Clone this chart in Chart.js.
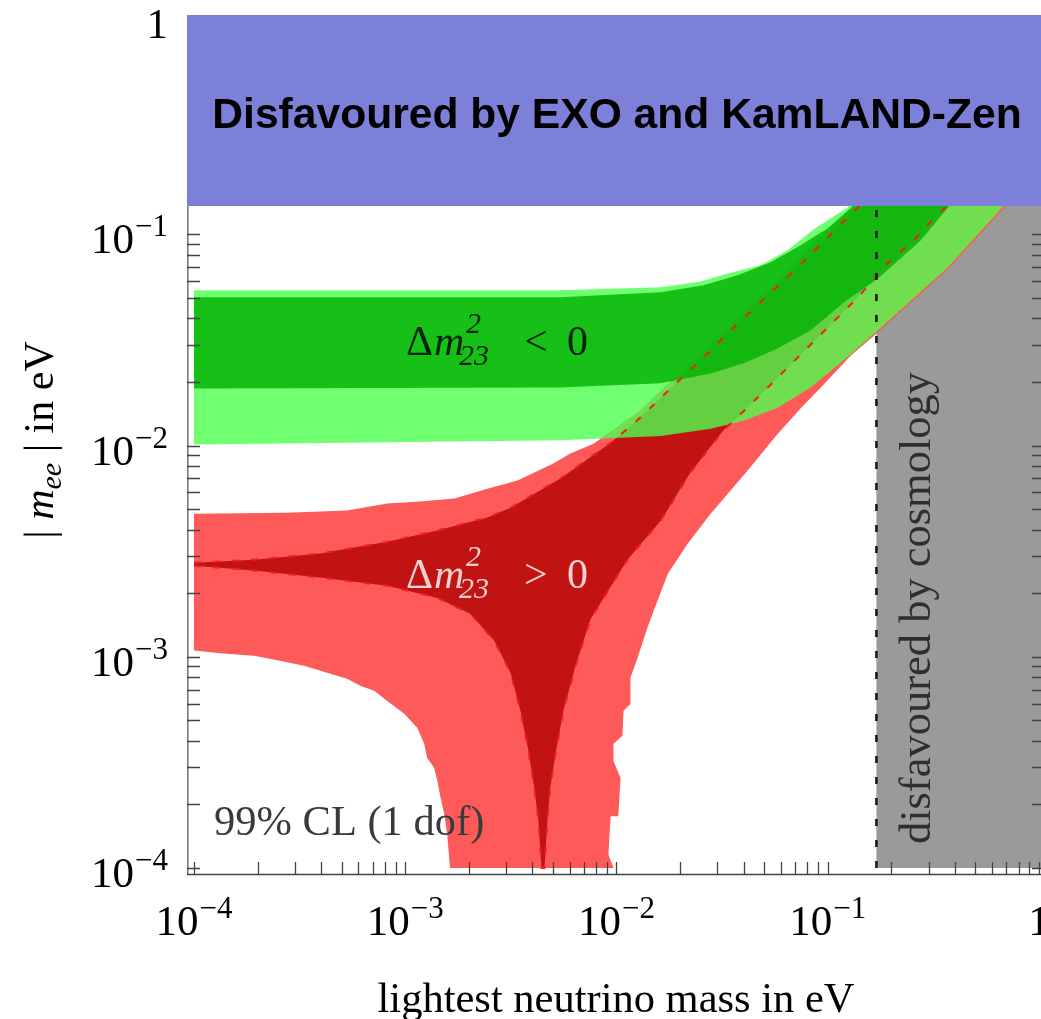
<!DOCTYPE html>
<html>
<head>
<meta charset="utf-8">
<script src="https://cdn.jsdelivr.net/npm/chart.js@4.4.1/dist/chart.umd.min.js"></script>
<style>
  html, body { margin: 0; padding: 0; background: #fff; overflow: hidden; }
  canvas { display: block; }
</style>
</head>
<body>
<canvas id="chart" width="1041" height="1019"></canvas>
<script>
// Effective Majorana mass |m_ee| versus the lightest neutrino mass (both in eV).
// Each boundary is a list of [lightest mass, |m_ee|] pairs.

const SERIF = '"Liberation Serif", "Times New Roman", serif';
const SANS = '"Liberation Sans", Arial, sans-serif';

// axis ranges (log scales) and decade tick labels
const xRange = [Math.pow(10, -4.033), Math.pow(10, 0.0095)];
const yRange = [Math.pow(10, -4.033), Math.pow(10, 0.038)];
const decades = [1e-4, 1e-3, 1e-2, 1e-1, 1];
const decadeLabels = [['10', '\u22124'], ['10', '\u22123'], ['10', '\u22122'], ['10', '\u22121'], ['1', '']];

// experimental bounds
const exoLimit = 0.136;    // |m_ee| upper bound (EXO + KamLAND-Zen)
const cosmoLimit = 0.17;   // lightest mass bound from cosmology

// normal ordering (dm23^2 > 0), 99% CL band
const nhOuterUpper = [
  [1.0e-4, 0.00476], [2.76e-4, 0.00481], [5.31e-4, 0.00492], [8.22e-4, 0.00531],
  [1.18e-3, 0.00543], [1.71e-3, 0.00561], [2.45e-3, 0.00625], [3.40e-3, 0.00683],
  [5.02e-3, 0.00822], [6.05e-3, 0.00916], [7.78e-3, 0.0102], [1.30e-2, 0.0147],
  [1.86e-2, 0.0208], [2.58e-2, 0.0282], [3.59e-2, 0.0391], [5.20e-2, 0.0543],
  [7.21e-2, 0.0753], [0.100, 0.1045], [0.139, 0.145], [1.1, 1.2]
];
const nhOuterLower = [
  [1.0e-4, 0.00107], [1.33e-4, 0.00104], [1.92e-4, 0.00101], [2.29e-4, 0.000979],
  [3.32e-4, 0.000906], [4.27e-4, 0.000840], [5.31e-4, 0.000787], [6.12e-4, 0.000729],
  [7.13e-4, 0.000690], [8.22e-4, 0.000618], [9.89e-4, 0.000537], [1.14e-3, 0.000461],
  [1.23e-3, 0.000387], [1.27e-3, 0.000332], [1.37e-3, 0.000298], [1.42e-3, 0.000258],
  [1.47e-3, 0.000215], [1.53e-3, 0.000180], [1.58e-3, 0.000145], [1.63e-3, 1.0e-4],
  [9.68e-3, 1.0e-4], [9.16e-3, 0.000116], [9.38e-3, 0.000176], [1.02e-2, 0.000176],
  [1.045e-2, 0.000267], [9.68e-3, 0.000321], [9.68e-3, 0.000387], [1.067e-2, 0.000423],
  [1.08e-2, 0.000555], [1.164e-2, 0.000598], [1.164e-2, 0.000795], [1.259e-2, 0.000989],
  [1.40e-2, 0.00137], [1.50e-2, 0.00165], [1.75e-2, 0.00247], [2.17e-2, 0.00343],
  [2.79e-2, 0.00476], [4.18e-2, 0.00762], [0.0568, 0.0111], [0.0745, 0.0150],
  [0.0977, 0.0199], [0.1285, 0.0267], [0.171, 0.0340], [0.371, 0.0683],
  [0.682, 0.1328], [1.1, 0.226]
];

// normal ordering, best-fit oscillation parameters
const nhBestUpper = [
  [1.0e-4, 0.00279], [1.92e-4, 0.00288], [3.95e-4, 0.00308], [8.22e-4, 0.00350],
  [1.42e-3, 0.00396], [2.45e-3, 0.00456], [3.15e-3, 0.00508], [5.43e-3, 0.00698],
  [9.38e-3, 0.0103], [1.127e-2, 0.0120], [1.30e-2, 0.0136], [1.86e-2, 0.0192],
  [2.58e-2, 0.0261], [3.59e-2, 0.0362], [5.20e-2, 0.0514], [7.21e-2, 0.0698],
  [0.100, 0.0968], [0.139, 0.134], [1.1, 1.07]
];
const nhBestLower = [
  [1.0e-4, 0.00270], [1.92e-4, 0.00256], [3.95e-4, 0.00237], [8.22e-4, 0.00217],
  [1.42e-3, 0.00190], [2.03e-3, 0.00160], [2.64e-3, 0.00119], [3.15e-3, 0.000840],
  [3.51e-3, 0.000555], [3.83e-3, 0.000359], [4.08e-3, 0.000239], [4.27e-3, 0.000167],
  [4.42e-3, 1.0e-4], [4.56e-3, 1.0e-4], [4.71e-3, 0.000167], [4.86e-3, 0.000239],
  [5.14e-3, 0.000347], [5.61e-3, 0.000555], [6.40e-3, 0.000906], [7.54e-3, 0.00151],
  [1.127e-2, 0.00288], [1.62e-2, 0.00441], [2.24e-2, 0.00745], [3.21e-2, 0.0118],
  [3.59e-2, 0.0131], [5.20e-2, 0.0188], [7.21e-2, 0.0261], [0.100, 0.0362],
  [0.139, 0.0503], [0.192, 0.0729], [0.256, 0.0937], [0.318, 0.119],
  [0.395, 0.145], [1.1, 0.42]
];

// inverted ordering (dm23^2 < 0), 99% CL band
const ihOuterUpper = [
  [1.0e-4, 0.0543], [5.43e-3, 0.0543], [1.62e-2, 0.0561], [2.50e-2, 0.0598],
  [3.36e-2, 0.0653], [4.81e-2, 0.0713], [6.46e-2, 0.0840], [8.59e-2, 0.1057],
  [0.124, 0.134], [1.1, 1.3]
];
const ihOuterLower = [
  [1.0e-4, 0.0101], [5.43e-3, 0.0106], [1.62e-2, 0.0111], [2.79e-2, 0.0120],
  [4.00e-2, 0.0131], [5.79e-2, 0.0151], [8.30e-2, 0.0188], [0.119, 0.0253],
  [0.173, 0.0351], [0.371, 0.0698], [0.682, 0.1365], [1.1, 0.23]
];

// inverted ordering, best-fit oscillation parameters
const ihBestUpper = [
  [1.0e-4, 0.0503], [5.43e-3, 0.0503], [1.62e-2, 0.0531], [2.58e-2, 0.0573],
  [3.74e-2, 0.0639], [5.37e-2, 0.0737], [7.45e-2, 0.0887], [0.100, 0.1067],
  [0.1285, 0.1328], [1.1, 1.2]
];
const ihBestLower = [
  [1.0e-4, 0.0186], [5.43e-3, 0.0188], [1.62e-2, 0.0197], [2.79e-2, 0.0219],
  [4.00e-2, 0.0245], [5.79e-2, 0.0288], [8.30e-2, 0.0351], [0.119, 0.0476],
  [0.173, 0.0618], [0.276, 0.0937], [0.371, 0.134], [1.1, 0.45]
];

// ---- helpers ----
const pts = arr => arr.map(([x, y]) => ({ x, y }));
const polygon = (upper, lower) => pts(upper.concat(lower.slice().reverse()));

const region = (label, data, color, order) => ({
  label, data, order, showLine: true, fill: 'shape',
  backgroundColor: color, borderWidth: 0, pointRadius: 0, pointHoverRadius: 0
});
const stroke = (label, data, color, width, dash, order) => ({
  label, data: pts(data), order, showLine: true, fill: false,
  borderColor: color, borderWidth: width, borderDash: dash,
  pointRadius: 0, pointHoverRadius: 0
});

const datasets = [
  region('cosmology', pts([[cosmoLimit, 1e-4], [1.1, 1e-4], [1.1, 1.2], [cosmoLimit, 1.2]]), '#9a9a9a', 10),
  region('NH 99% CL', polygon(nhOuterUpper, nhOuterLower), '#ff5a5a', 9),
  region('NH best fit', polygon(nhBestUpper, nhBestLower), '#c21313', 8),
  region('IH 99% CL', polygon(ihOuterUpper, ihOuterLower), 'rgba(76,255,76,0.8)', 7),
  region('IH best fit', polygon(ihBestUpper, ihBestLower), 'rgba(0,176,0,0.8)', 6),
  stroke('NH best fit upper', nhBestUpper, '#f41e1e', 2, [7, 12], 5),
  stroke('NH best fit lower', nhBestLower, '#f41e1e', 2, [7, 12], 4),
  stroke('cosmology bound', [[cosmoLimit, 1e-4], [cosmoLimit, exoLimit]], '#1c1c1c', 2.6, [7, 14], 3),
  region('EXO / KamLAND-Zen', pts([[1e-5, exoLimit], [10, exoLimit], [10, 10], [1e-5, 10]]), '#7c80d8', 2)
];
const FRAME_LAYER = 7;   // frame and ticks go over the bands but under the excluded top strip

// ---- text drawing ----
function drawParts(ctx, parts, x, y) {
  for (const p of parts) {
    ctx.font = p.font;
    ctx.fillText(p.text, x, y + (p.dy || 0));
    x += ctx.measureText(p.text).width;
  }
}
function partsWidth(ctx, parts) {
  let w = 0;
  for (const p of parts) { ctx.font = p.font; w += ctx.measureText(p.text).width; }
  return w;
}

function drawPower(ctx, base, exp, x, y, align) {
  ctx.font = `43px ${SERIF}`;
  const wb = ctx.measureText(base).width;
  ctx.font = `31px ${SERIF}`;
  const we = exp ? ctx.measureText(exp).width + 1 : 0;
  const x0 = align === 'right' ? x - wb - we : x - (wb + we) / 2;
  ctx.font = `43px ${SERIF}`;
  ctx.fillText(base, x0, y);
  if (exp) {
    ctx.font = `31px ${SERIF}`;
    ctx.fillText(exp, x0 + wb + 1, y - 17);
  }
}

function drawMassLabel(ctx, x0, yb, rel, color) {
  ctx.fillStyle = color;
  ctx.textAlign = 'left';
  ctx.font = `42px ${SERIF}`;
  ctx.fillText('\u0394', x0, yb);
  ctx.font = `italic 42px ${SERIF}`;
  ctx.fillText('m', x0 + 28, yb);
  ctx.font = `italic 30px ${SERIF}`;
  ctx.fillText('2', x0 + 60, yb - 22);
  ctx.fillText('23', x0 + 53, yb + 10);
  ctx.font = `42px ${SERIF}`;
  ctx.fillText(rel, x0 + 118, yb);
  ctx.fillText('0', x0 + 161, yb);
}

function tickValues() {
  const v = [];
  for (let e = -4; e < 0; e++) for (let k = 1; k < 10; k++) v.push(k * Math.pow(10, e));
  v.push(1);
  return v;
}

const decor = {
  id: 'decor',
  afterDatasetDraw(chart, args) {
    if (args.index !== FRAME_LAYER) return;
    const { ctx, chartArea: a, scales: { x, y } } = chart;
    ctx.save();
    // frame lines along the two axes
    ctx.lineWidth = 1.6;
    ctx.strokeStyle = '#7a7a7a';
    ctx.beginPath();
    ctx.moveTo(a.left + 0.8, a.top);
    ctx.lineTo(a.left + 0.8, a.bottom);
    ctx.stroke();
    ctx.strokeStyle = '#444';
    ctx.beginPath();
    ctx.moveTo(a.left, a.bottom - 0.5);
    ctx.lineTo(a.right, a.bottom - 0.5);
    ctx.stroke();
    // inward tick marks
    ctx.strokeStyle = '#444';
    ctx.lineWidth = 1.3;
    ctx.beginPath();
    for (const v of tickValues()) {
      const px = Math.round(x.getPixelForValue(v)) + 0.5;
      if (px >= a.left && px <= a.right) {
        ctx.moveTo(px, a.bottom);
        ctx.lineTo(px, a.bottom - 13);
      }
      const py = Math.round(y.getPixelForValue(v)) + 0.5;
      ctx.moveTo(a.left, py);
      ctx.lineTo(a.left + 13, py);
      ctx.moveTo(a.right, py);
      ctx.lineTo(a.right - 9, py);
    }
    ctx.stroke();
    ctx.restore();
  },
  afterDraw(chart) {
    const { ctx, scales: { x, y } } = chart;
    ctx.save();
    ctx.textBaseline = 'alphabetic';
    ctx.textAlign = 'left';
    ctx.fillStyle = '#000';

    // decade labels
    decades.forEach((v, i) => {
      const [base, exp] = decadeLabels[i];
      drawPower(ctx, base, exp, x.getPixelForValue(v), 935, 'center');
      const py = y.getPixelForValue(v);
      drawPower(ctx, base, exp, 168, py + (exp ? 19 : 14.5), 'right');
    });

    // axis titles
    ctx.font = `42.5px ${SERIF}`;
    ctx.textAlign = 'center';
    ctx.fillText('lightest neutrino mass in eV', 616, 1012);

    ctx.save();
    ctx.translate(53, 440);
    ctx.rotate(-Math.PI / 2);
    ctx.textAlign = 'left';
    const yTitle = [
      { text: '| ', font: `42px ${SERIF}` },
      { text: 'm', font: `italic 42px ${SERIF}` },
      { text: 'ee', font: `italic 30px ${SERIF}`, dy: 8 },
      { text: ' | in eV', font: `42px ${SERIF}` }
    ];
    drawParts(ctx, yTitle, -partsWidth(ctx, yTitle) / 2, 0);
    ctx.restore();

    // excluded strip label
    ctx.textAlign = 'center';
    ctx.fillStyle = '#000';
    ctx.font = `bold 42.6px ${SANS}`;
    ctx.fillText('Disfavoured by EXO and KamLAND-Zen', 617, 128);

    // cosmology label
    ctx.save();
    ctx.translate(930, 608);
    ctx.rotate(-Math.PI / 2);
    ctx.fillStyle = '#2e2e2e';
    ctx.font = `44.5px ${SERIF}`;
    ctx.textAlign = 'center';
    ctx.fillText('disfavoured by cosmology', 0, 0);
    ctx.restore();

    // confidence level note
    ctx.textAlign = 'left';
    ctx.fillStyle = '#3a3a3a';
    ctx.font = `42.5px ${SERIF}`;
    ctx.fillText('99% CL (1 dof)', 214, 835);

    // ordering labels
    drawMassLabel(ctx, 406, 355, '<', 'rgba(0,0,0,0.82)');
    drawMassLabel(ctx, 406, 588, '>', 'rgba(255,255,255,0.8)');

    ctx.restore();
  }
};

new Chart(document.getElementById('chart'), {
  type: 'scatter',
  data: { datasets },
  options: {
    responsive: false,
    devicePixelRatio: 1,
    animation: false,
    events: [],
    layout: { padding: { top: 15, right: 0, left: 0, bottom: 0 } },
    plugins: { legend: { display: false }, tooltip: { enabled: false } },
    scales: {
      x: {
        type: 'logarithmic', min: xRange[0], max: xRange[1],
        ticks: { display: false }, grid: { display: false },
        border: { display: false },
        afterFit: s => { s.height = 144; }
      },
      y: {
        type: 'logarithmic', min: yRange[0], max: yRange[1],
        ticks: { display: false }, grid: { display: false },
        border: { display: false },
        afterFit: s => { s.width = 187; }
      }
    }
  },
  plugins: [decor]
});
</script>
</body>
</html>
